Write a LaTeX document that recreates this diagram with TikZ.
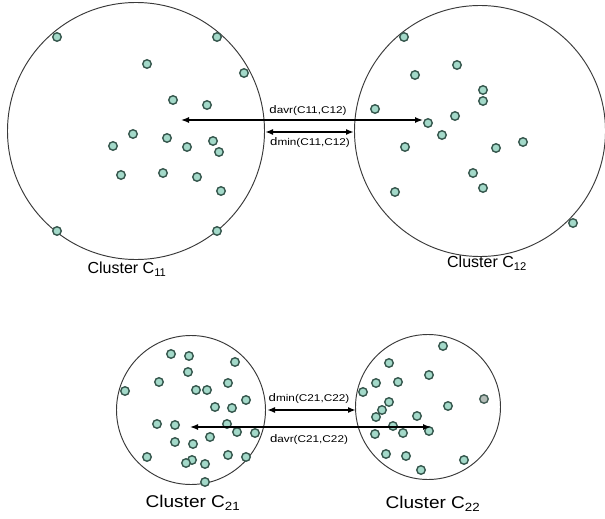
\documentclass[tikz,border=0pt]{standalone}
\usepackage{fontspec}
\setmainfont{Liberation Sans}
\usetikzlibrary{arrows.meta}
\definecolor{dotfill}{HTML}{A3D9C9}
\definecolor{dotline}{HTML}{35564C}
\definecolor{dotgray}{HTML}{B4BDB8}
\definecolor{ring}{HTML}{3A3A3A}
\tikzset{
  pt/.style={circle,draw=dotline,fill=dotfill,line width=1.4pt,minimum size=8.5pt,inner sep=0pt},
  graypt/.style={pt,fill=dotgray,draw=dotline!80!gray},
  ring/.style={draw=ring,line width=0.95pt},
  avr/.style={draw=black,line width=1.4pt,{Latex[length=8pt,width=6pt]}-{Latex[length=8pt,width=6pt]}},
  dmn/.style={draw=black,line width=1.8pt,{Latex[length=8pt,width=6pt]}-{Latex[length=8pt,width=6pt]}},
  dlabel/.style={inner sep=0pt,xscale=1.2,font=\fontsize{9.8}{10}\selectfont},
  clabel/.style={inner sep=0pt,font=\fontsize{16}{18}\selectfont},
  clabelb/.style={inner sep=0pt,xscale=1.12,font=\fontsize{17}{19}\selectfont}
}
\newcommand{\dd}[2]{{\fontsize{11}{11}\selectfont d}#1(#2)}
\begin{document}
\begin{tikzpicture}[x=1pt,y=-1pt]
\useasboundingbox[fill=white] (0,0) rectangle (605,519);
% clusters
\node[ring,circle,minimum size=257pt,inner sep=0pt] (c11) at (136,131) {};
\node[ring,circle,minimum size=251pt,inner sep=0pt] (c12) at (480,131) {};
\node[ring,circle,minimum size=149pt,inner sep=0pt] (c21) at (191,410) {};
\node[ring,circle,minimum size=145pt,inner sep=0pt] (c22) at (428,407) {};
% points C11
\foreach \x/\y [count=\i] in {57/37,217/37,147/64,244/73,173/100,207/105,133/134,113/146,167/138,187/147,213/141,219/152,121/175,163/173,197/177,221/191,57/231,217/231}
  \node[pt] (p11-\i) at (\x,\y) {};
% points C12
\foreach \x/\y [count=\i] in {404/37,457/65,415/75,483/90,483/101,375/109,455/116,428/123,442/135,405/147,496/148,523/142,473/173,483/188,395/192,573/223}
  \node[pt] (p12-\i) at (\x,\y) {};
% points C21
\foreach \x/\y [count=\i] in {171/354,189/356,235/362,188/372,159/382,228/383,125/391,196/390,207/390,246/400,215/407,232/408,157/424,175/425,227/424,237/432,255/433,210/437,175/442,193/444,147/457,228/455,246/457,192/460,186/463,205/464,205/482}
  \node[pt] (p21-\i) at (\x,\y) {};
% points C22
\foreach \x/\y [count=\i] in {443/346,389/363,429/375,376/383,398/382,363/392,389/402,448/406,382/410,376/417,417/416,393/426,403/433,429/431,375/434,386/454,406/456,464/460,421/470}
  \node[pt] (p22-\i) at (\x,\y) {};
\node[graypt] (p22-g) at (484,399) {};
% arrow end points
\coordinate (a1l) at (181,120);
\coordinate (a1r) at (423,120);
\coordinate (m1l) at (265,132);
\coordinate (m1r) at (354,132);
\coordinate (m2l) at (267,410);
\coordinate (m2r) at (356,410);
\coordinate (a2l) at (190,427);
\coordinate (a2r) at (431,427);
\draw[avr] (a1l) -- (a1r);
\draw[dmn] (m1l) -- (m1r);
\draw[dmn] (m2l) -- (m2r);
\draw[avr] (a2l) -- (a2r);
% distance labels
\node[dlabel] (l1) at (308,111) {\dd{avr}{C11,C12}};
\node[dlabel] (l2) at (310,143) {\dd{min}{C11,C12}};
\node[dlabel] (l3) at (309,399) {\dd{min}{C21,C22}};
\node[dlabel] (l4) at (309,440) {\dd{avr}{C21,C22}};
% cluster labels
\node[clabel] (n11) at (127,269) {Cluster C\textsubscript{11}};
\node[clabel] (n12) at (487,263) {Cluster C\textsubscript{12}};
\node[clabelb] (n21) at (193,503) {Cluster C\textsubscript{21}};
\node[clabelb] (n22) at (433,504) {Cluster C\textsubscript{22}};
\end{tikzpicture}
\end{document}
